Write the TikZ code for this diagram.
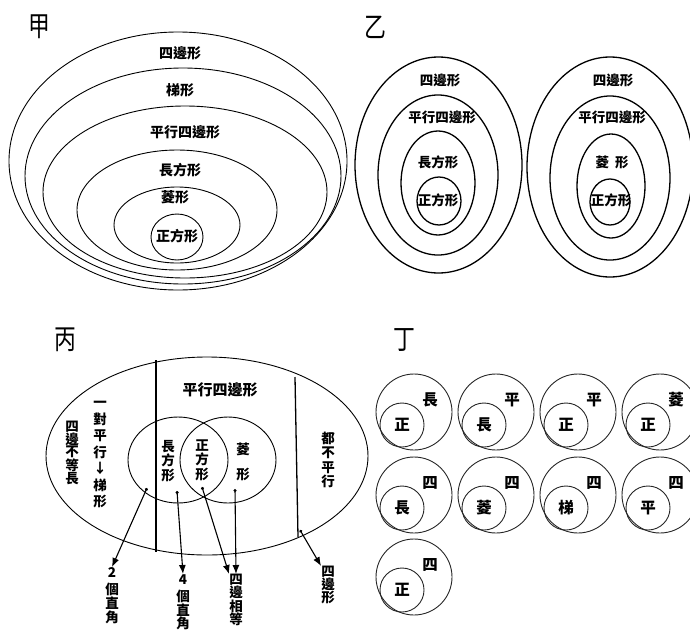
\documentclass[tikz,border=0pt]{standalone}
\usepackage{fontspec}
\newfontfamily\cjk{Noto Sans CJK TC}
\usetikzlibrary{shapes.geometric,arrows.meta}
\begin{document}
\begin{tikzpicture}[x=1pt,y=-1pt,
  ell/.style={draw, ellipse, inner sep=0pt, line width=0.9pt},
  ellb/.style={draw, ellipse, inner sep=0pt, line width=1.3pt},
  cir/.style={draw=black!85, circle, inner sep=0pt, line width=0.9pt},
  ttl/.style={font=\cjk\fontsize{28}{28}\selectfont, inner sep=0pt, xscale=0.78},
  ta/.style={font=\cjk\bfseries\fontsize{14}{14}\selectfont, inner sep=0pt},
  tb/.style={font=\cjk\bfseries\fontsize{13.5}{13.5}\selectfont, inner sep=0pt},
  tc/.style={font=\cjk\bfseries\fontsize{15}{15}\selectfont, inner sep=0pt},
  vt/.style={font=\cjk\bfseries\fontsize{13.5}{#1}\selectfont, inner sep=0pt, align=center},
  vt/.default=13.5,
  td/.style={font=\cjk\bfseries\fontsize{15.5}{15.5}\selectfont, inner sep=0pt},
  arr/.style={line width=1.1pt, {Circle[length=3pt]}-{Latex[length=9pt,width=7pt]}}
]
\useasboundingbox (0,0) rectangle (690,635);

% ---------- 甲 ----------
\node[ttl] (tA) at (39,27) {甲};
\node[ell, minimum width=338pt, minimum height=258pt] (j1) at (178,161) {};
\node[ell, minimum width=316pt, minimum height=216pt] (j2) at (183,176) {};
\node[ell, minimum width=284pt, minimum height=172pt] (j3) at (185,192) {};
\node[ell, minimum width=200pt, minimum height=120pt] (j4) at (177,210) {};
\node[ell, minimum width=126pt, minimum height=76pt] (j5) at (177,225) {};
\node[ell, minimum width=52pt, minimum height=46pt] (j6) at (177,237) {};
\node[ta] (jl1) at (180,53) {四邊形};
\node[ta] (jl2) at (180,90) {梯形};
\node[ta] (jl3) at (185,132) {平行四邊形};
\node[ta] (jl4) at (180,170) {長方形};
\node[ta] (jl5) at (175,197) {菱形};
\node[ta] (jl6) at (177,236) {正方形};

% ---------- 乙 ----------
\node[ttl] (tB) at (375,27) {乙};
\node[ellb, minimum width=167pt, minimum height=216pt] (y1) at (438.5,165) {};
\node[ellb, minimum width=120pt, minimum height=160pt] (y2) at (438,175) {};
\node[ellb, minimum width=74pt, minimum height=104pt] (y3) at (438,183) {};
\node[ellb, minimum width=44pt, minimum height=48pt] (y4) at (439,201) {};
\node[tb] (yl1) at (440,80) {四邊形};
\node[tb] (yl2) at (442,117) {平行四邊形};
\node[tb] (yl3) at (438,162) {長方形};
\node[tb] (yl4) at (438,200) {正方形};
\node[ellb, minimum width=166pt, minimum height=220pt] (y5) at (610,167) {};
\node[ellb, minimum width=120pt, minimum height=164pt] (y6) at (610,178) {};
\node[ellb, minimum width=68pt, minimum height=104pt] (y7) at (611,186) {};
\node[ellb, minimum width=40pt, minimum height=46pt] (y8) at (610,202) {};
\node[tb] (yl5) at (613,80) {四邊形};
\node[tb] (yl6) at (612,117) {平行四邊形};
\node[tb] (yl7) at (612,162) {菱\hspace{6pt}形};
\node[tb] (yl8) at (611,200) {正方形};

% ---------- 丙 ----------
\node[ttl] (tC) at (65,340) {丙};
\node[ell, minimum width=322pt, minimum height=198pt] (big) at (207,456) {};
\draw[line width=2.5pt] (156,360) -- (156,552);
\draw[line width=1.3pt] (295,377) -- (298,537);
\node[ell, minimum width=100pt, minimum height=86pt] (lc) at (178,460) {};
\node[ell, minimum width=96pt, minimum height=86pt] (rc) at (228,460) {};
\node[tc] (pq) at (220,390) {平行四邊形};
\node[vt=12.5] (c1) at (72,453) {四\\邊\\不\\等\\長};
\node[vt=16.5] (c2) at (100,455) {一\\對\\平\\行\\↓\\梯\\形};
\node[vt=14.5] (c3) at (168,461) {長\\方\\形};
\node[vt=14.5] (c4) at (202,460) {正\\方\\形};
\node[vt=25] (c5) at (243,462) {菱\\形};
\node[vt=14.5] (c6) at (328,460) {都\\不\\平\\行};

\coordinate (s1) at (147,488);
\coordinate (s2) at (177,491);
\coordinate (s3) at (202,487);
\coordinate (s4) at (235,489);
\coordinate (s5) at (300,530);
\node[vt=12.5, anchor=north] (b1) at (112,567) {2\\[5pt]個\\直\\角};
\node[vt=12.5, anchor=north] (b2) at (183,574) {4\\[5pt]個\\直\\角};
\node[vt=12.5, anchor=north] (b3) at (236,574) {四\\邊\\相\\等};
\node[vt=12.5, anchor=north] (b4) at (328,566) {四\\邊\\形};
\draw[arr] (s1) -- (b1.north);
\draw[arr] (s2) -- (b2.north);
\draw[arr] (s3) -- (b3.north west);
\draw[arr] (s4) -- (b3.north);
\draw[arr] (s5) -- (b4.north west);

% ---------- 丁 ----------
\node[ttl] (tD) at (404,340) {丁};
\foreach \cx/\cy/\a/\b/\n in {414/412/長/正/1, 496/412/平/長/2, 578/412/平/正/3, 660/412/菱/正/4,
  414/495/四/長/5, 496/495/四/菱/6, 578/495/四/梯/7, 660/495/四/平/8, 414/577/四/正/9}{
  \node[cir, minimum size=76pt] (o\n) at (\cx,\cy) {};
  \node[cir, minimum size=44pt] (i\n) at ({\cx-12},{\cy+13}) {};
  \node[td] (ol\n) at ({\cx+16},{\cy-12}) {\a};
  \node[td] (il\n) at ({\cx-12},{\cy+13}) {\b};
}
\end{tikzpicture}
\end{document}
